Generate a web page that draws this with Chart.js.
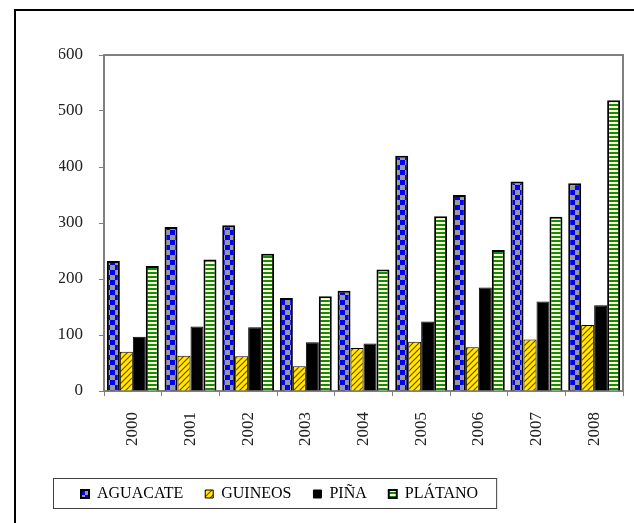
<!DOCTYPE html>
<html>
<head>
<meta charset="utf-8">
<script src="https://cdn.jsdelivr.net/npm/chart.js@4"></script>
<style>
  html, body { margin: 0; padding: 0; background: #fff; overflow: hidden; }
  #wrap { position: relative; width: 634px; height: 523px; overflow: hidden; }
  #frame { position: absolute; left: 14px; top: 9px; width: 800px; height: 800px;
           border: 2px solid #000; pointer-events: none; }
</style>
</head>
<body>
<div id="wrap">
  <canvas id="myChart" width="634" height="523"></canvas>
  <div id="frame"></div>
</div>
<script>
// production by year
const years = ['2000', '2001', '2002', '2003', '2004', '2005', '2006', '2007', '2008'];
const aguacate = [232, 293, 296, 166, 179, 420, 350, 374, 371];
const guineos = [70, 63, 62, 44, 77, 88, 78, 92, 118];
const pina = [97, 115, 114, 87, 85, 124, 185, 160, 153];
const platano = [223, 235, 245, 169, 217, 312, 252, 311, 519];
const yTicks = [0, 100, 200, 300, 400, 500, 600];

// small tiled fills like the old office chart
function makePattern(w, h, paint) {
  const c = document.createElement('canvas');
  c.width = w; c.height = h;
  paint(c.getContext('2d'));
  return c.getContext('2d').createPattern(c, 'repeat');
}

const ctx = document.getElementById('myChart').getContext('2d');

const checker = makePattern(10, 10, g => {
  g.fillStyle = '#0000ff'; g.fillRect(0, 0, 10, 10);
  g.fillStyle = '#999999'; g.fillRect(5, 0, 5, 5); g.fillRect(0, 5, 5, 5);
});
const hatch = makePattern(6, 6, g => {
  g.fillStyle = '#ffee00'; g.fillRect(0, 0, 6, 6);
  g.strokeStyle = '#993300'; g.lineWidth = 1.2;
  g.beginPath();
  g.moveTo(0, 6); g.lineTo(6, 0);
  g.moveTo(-1, 1); g.lineTo(1, -1);
  g.moveTo(5, 7); g.lineTo(7, 5);
  g.stroke();
});
const stripes = makePattern(4, 4, g => {
  g.fillStyle = '#ffffcc'; g.fillRect(0, 0, 4, 4);
  g.fillStyle = '#108a10'; g.fillRect(0, 0, 4, 2);
});

// gray frame around the plot and a box around the legend
const frames = {
  id: 'frames',
  afterDatasetsDraw(chart) {
    const a = chart.chartArea;
    const c = chart.ctx;
    c.save();
    c.strokeStyle = '#808080';
    c.lineWidth = 2;
    c.beginPath();
    c.moveTo(a.left, a.top); c.lineTo(a.right, a.top); c.lineTo(a.right, a.bottom);
    c.stroke();
    c.restore();
  },
  afterDraw(chart) {
    const boxes = chart.legend.legendHitBoxes;
    if (!boxes || !boxes.length) return;
    const first = boxes[0], last = boxes[boxes.length - 1];
    const cy = first.top + first.height / 2;
    const c = chart.ctx;
    c.save();
    c.strokeStyle = '#404040';
    c.lineWidth = 1;
    c.strokeRect(first.left - 27.5, cy - 15.5, last.left + last.width + 46 - first.left, 30);
    c.restore();
  }
};

const serif = 'Liberation Serif, Times New Roman, serif';

new Chart(ctx, {
  type: 'bar',
  data: {
    labels: years,
    datasets: [
      { label: 'AGUACATE', data: aguacate, backgroundColor: checker, borderColor: '#000', borderWidth: 2 },
      { label: 'GUINEOS', data: guineos, backgroundColor: hatch, borderColor: '#000', borderWidth: 1 },
      { label: 'PIÑA', data: pina, backgroundColor: '#000', borderColor: '#000', borderWidth: 1 },
      { label: 'PLÁTANO', data: platano, backgroundColor: stripes, borderColor: '#000', borderWidth: 2 }
    ]
  },
  options: {
    responsive: false,
    animation: false,
    categoryPercentage: 0.9,
    barPercentage: 1.0,
    layout: { padding: { left: 59, right: 11, top: 55, bottom: 11 } },
    plugins: {
      tooltip: { enabled: false },
      legend: {
        position: 'bottom',
        align: 'start',
        labels: {
          boxWidth: 8,
          boxHeight: 8,
          padding: 22,
          color: '#000',
          font: { family: serif, size: 16 }
        }
      }
    },
    scales: {
      x: {
        afterFit(scale) { scale.height = 73; },
        grid: { drawOnChartArea: false, tickLength: 5, color: '#808080' },
        border: { color: '#808080', width: 2 },
        ticks: {
          minRotation: 90, maxRotation: 90, padding: 16,
          color: '#222', font: { family: serif, size: 17 }
        }
      },
      y: {
        min: 0,
        max: 600,
        afterFit(scale) { scale.width = 45; },
        afterBuildTicks(scale) { scale.ticks = yTicks.map(v => ({ value: v })); },
        grid: { drawOnChartArea: false, tickLength: 5, color: '#808080' },
        border: { color: '#808080', width: 2 },
        ticks: { padding: 16, color: '#222', font: { family: serif, size: 17 } }
      }
    }
  },
  plugins: [frames]
});
</script>
</body>
</html>
